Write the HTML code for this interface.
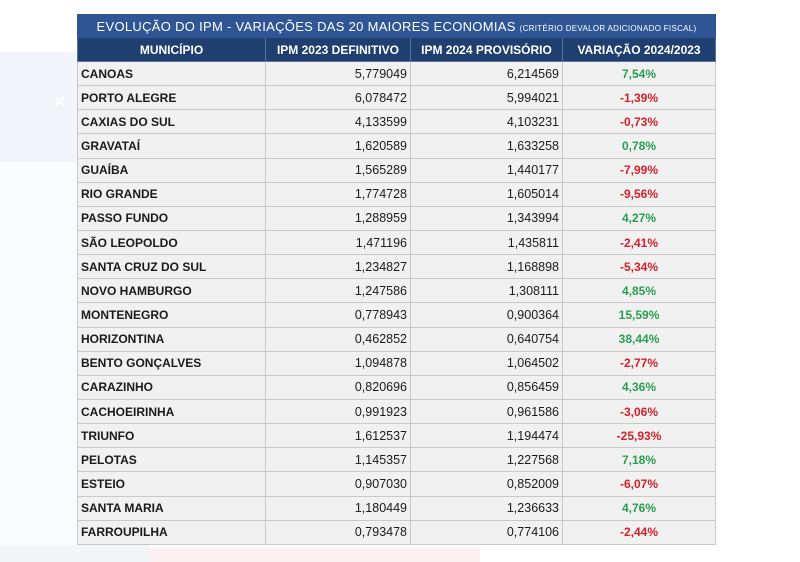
<!DOCTYPE html>
<html><head><meta charset="utf-8"><style>
html,body{margin:0;padding:0;width:800px;height:562px;overflow:hidden;background:#fff;font-family:"Liberation Sans","DejaVu Sans",sans-serif;position:relative}
.lp{position:absolute;left:0;top:52px;width:77px;height:110px;background:#f1f5fa}
.lp2{position:absolute;left:0;top:162px;width:77px;height:383px;background:#fafbfd}
.pink{position:absolute;left:150px;top:548px;width:330px;height:14px;background:#fdf0f0}
.bot{position:absolute;left:0;top:545px;width:150px;height:17px;background:#f3f6f9}
.x{position:absolute;left:52px;top:92px;color:#fff;font-size:18px}
table{position:absolute;left:77px;top:14px;border-collapse:collapse;width:638px;table-layout:fixed}
td{border:1px solid #c9c9c9;height:23.15px;padding:0 3px;font-size:12px;color:#1a1a1a;background:#f1f1f1;font-weight:bold;white-space:nowrap;overflow:hidden}
td.n{text-align:right;font-weight:normal;font-size:12.5px}
td.v{text-align:center}
.g{color:#2a9d4f}.r{color:#d2222a}
tr.t td{background:#2f5595;color:#fff;text-align:center;font-size:13px;font-weight:normal;height:22px;border-color:#2f5595;letter-spacing:.3px}
tr.t small{font-size:8px}
tr.h td{background:#1f3f70;color:#fff;text-align:center;font-size:12px;height:23px;border-color:#5b7397}
</style></head><body>
<div class="lp"></div><div class="lp2"></div><div class="bot"></div><div class="pink"></div><div class="x">✕</div>
<table>
<colgroup><col style="width:188px"><col style="width:145px"><col style="width:152px"><col style="width:153px"></colgroup>
<tr class="t"><td colspan="4">EVOLUÇÃO DO IPM - VARIAÇÕES DAS 20 MAIORES ECONOMIAS <small>(CRITÉRIO DEVALOR ADICIONADO FISCAL)</small></td></tr>
<tr class="h"><td>MUNICÍPIO</td><td>IPM 2023 DEFINITIVO</td><td>IPM 2024 PROVISÓRIO</td><td>VARIAÇÃO 2024/2023</td></tr>
<tr><td>CANOAS</td><td class="n">5,779049</td><td class="n">6,214569</td><td class="v g">7,54%</td></tr>
<tr><td>PORTO ALEGRE</td><td class="n">6,078472</td><td class="n">5,994021</td><td class="v r">-1,39%</td></tr>
<tr><td>CAXIAS DO SUL</td><td class="n">4,133599</td><td class="n">4,103231</td><td class="v r">-0,73%</td></tr>
<tr><td>GRAVATAÍ</td><td class="n">1,620589</td><td class="n">1,633258</td><td class="v g">0,78%</td></tr>
<tr><td>GUAÍBA</td><td class="n">1,565289</td><td class="n">1,440177</td><td class="v r">-7,99%</td></tr>
<tr><td>RIO GRANDE</td><td class="n">1,774728</td><td class="n">1,605014</td><td class="v r">-9,56%</td></tr>
<tr><td>PASSO FUNDO</td><td class="n">1,288959</td><td class="n">1,343994</td><td class="v g">4,27%</td></tr>
<tr><td>SÃO LEOPOLDO</td><td class="n">1,471196</td><td class="n">1,435811</td><td class="v r">-2,41%</td></tr>
<tr><td>SANTA CRUZ DO SUL</td><td class="n">1,234827</td><td class="n">1,168898</td><td class="v r">-5,34%</td></tr>
<tr><td>NOVO HAMBURGO</td><td class="n">1,247586</td><td class="n">1,308111</td><td class="v g">4,85%</td></tr>
<tr><td>MONTENEGRO</td><td class="n">0,778943</td><td class="n">0,900364</td><td class="v g">15,59%</td></tr>
<tr><td>HORIZONTINA</td><td class="n">0,462852</td><td class="n">0,640754</td><td class="v g">38,44%</td></tr>
<tr><td>BENTO GONÇALVES</td><td class="n">1,094878</td><td class="n">1,064502</td><td class="v r">-2,77%</td></tr>
<tr><td>CARAZINHO</td><td class="n">0,820696</td><td class="n">0,856459</td><td class="v g">4,36%</td></tr>
<tr><td>CACHOEIRINHA</td><td class="n">0,991923</td><td class="n">0,961586</td><td class="v r">-3,06%</td></tr>
<tr><td>TRIUNFO</td><td class="n">1,612537</td><td class="n">1,194474</td><td class="v r">-25,93%</td></tr>
<tr><td>PELOTAS</td><td class="n">1,145357</td><td class="n">1,227568</td><td class="v g">7,18%</td></tr>
<tr><td>ESTEIO</td><td class="n">0,907030</td><td class="n">0,852009</td><td class="v r">-6,07%</td></tr>
<tr><td>SANTA MARIA</td><td class="n">1,180449</td><td class="n">1,236633</td><td class="v g">4,76%</td></tr>
<tr><td>FARROUPILHA</td><td class="n">0,793478</td><td class="n">0,774106</td><td class="v r">-2,44%</td></tr>
</table>
</body></html>
